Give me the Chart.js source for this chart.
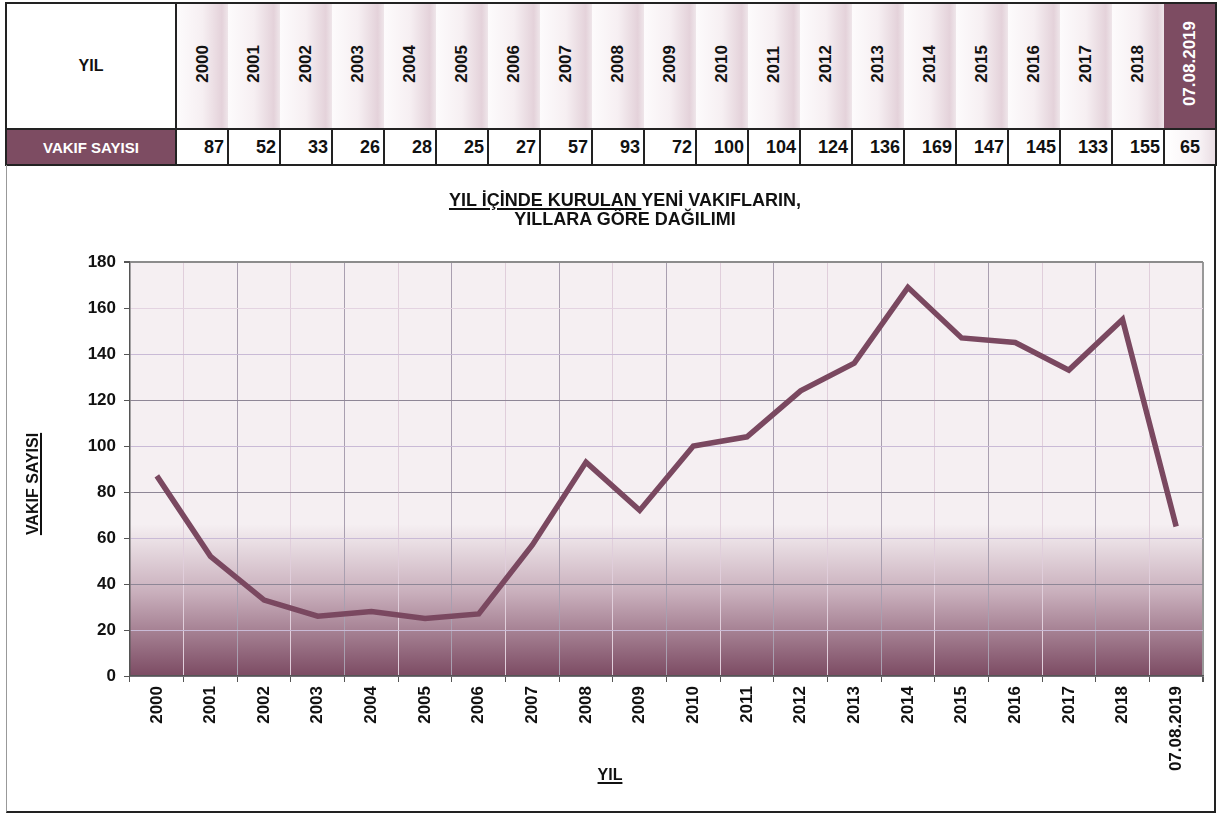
<!DOCTYPE html>
<html lang="tr">
<head>
<meta charset="utf-8">
<script src="https://cdn.jsdelivr.net/npm/chart.js@4.4.1/dist/chart.umd.min.js"></script>
<style>
  body { margin: 0; background: #fff; font-family: Arial, "Liberation Sans", sans-serif; color: #111; }
  #tbl { position: absolute; left: 5px; top: 2px; width: 1211px; border-collapse: collapse; table-layout: fixed; border: 2px solid #222; }
  #tbl td { padding: 0; font-weight: bold; }
  #tbl .head td { height: 124px; }
  #tbl .head td.year { text-align: center; vertical-align: middle;
    background: linear-gradient(to right, #fdfbfc 0%, #f6eff2 50%, #e4d2da 88%, #efe6ea 100%); }
  #tbl .head td.year span { display: inline-block; writing-mode: vertical-rl; transform: rotate(180deg); font-size: 17px; white-space: nowrap; }
  #tbl .head td.first { text-align: center; font-size: 16px; border-right: 2px solid #222; }
  #tbl td.dark { background: #7d4c62 !important; color: #fff; }
  #tbl .vals td { height: 34px; border: 2px solid #222; text-align: right; padding-right: 3px; font-size: 18px; }
  #tbl .vals td.first { text-align: center; font-size: 15px; padding-right: 0; }
  #tbl .vals td.last { text-align: center; padding-right: 0; background: linear-gradient(to right, #fff 0%, #f7f1f4 70%, #e9dde3 100%); }
  #box { position: absolute; left: 6px; top: 165px; width: 1210px; height: 648px; box-sizing: border-box;
    border-left: 1px solid #999; border-right: 2px solid #222; border-bottom: 2px solid #222; }
  #chart { position: absolute; left: 0; top: 0; }
  .lbl { position: absolute; font-weight: bold; text-align: center; white-space: nowrap; }
  .lbl u { text-decoration-thickness: 1.5px; text-underline-offset: 2px; }
  #title { left: 325px; top: 191px; width: 600px; font-size: 18px; line-height: 19px; }
  #ytitle { left: -37px; top: 474px; width: 140px; font-size: 16px; line-height: 20px; transform: rotate(-90deg); }
  #xtitle { left: 560px; top: 765px; width: 100px; font-size: 16px; line-height: 20px; }
</style>
</head>
<body>
<table id="tbl"><colgroup id="cols"></colgroup><tr class="head" id="headRow"></tr><tr class="vals" id="valRow"></tr></table>
<div id="box"><canvas id="chart" width="1207" height="646"></canvas></div>
<div class="lbl" id="title"><u>YIL İÇİNDE KURULAN </u>YENİ VAKIFLARIN,<br>YILLARA GÖRE DAĞILIMI</div>
<div class="lbl" id="ytitle"><u>VAKIF SAYISI</u></div>
<div class="lbl" id="xtitle"><u>YIL</u></div>
<script>
const years = ["2000", "2001", "2002", "2003", "2004", "2005", "2006", "2007", "2008", "2009",
  "2010", "2011", "2012", "2013", "2014", "2015", "2016", "2017", "2018", "07.08.2019"];
const foundationCounts = [87, 52, 33, 26, 28, 25, 27, 57, 93, 72, 100, 104, 124, 136, 169, 147, 145, 133, 155, 65];
const yMin = 0;
const yMax = 180;
const yStep = 20;

// table on top
const cols = document.getElementById("cols");
const headRow = document.getElementById("headRow");
const valRow = document.getElementById("valRow");
cols.innerHTML = '<col style="width:170px">' + years.map(() => '<col style="width:52px">').join("");
headRow.innerHTML = '<td class="first">YIL</td>' + years.map((y, i) =>
  `<td class="year${i === years.length - 1 ? " dark" : ""}"><span>${y}</span></td>`).join("");
valRow.innerHTML = '<td class="first dark">VAKIF SAYISI</td>' + foundationCounts.map((v, i) =>
  `<td${i === foundationCounts.length - 1 ? ' class="last"' : ""}>${v}</td>`).join("");

const plotBackground = {
  id: "plotBackground",
  beforeDraw(chart) {
    const { ctx, chartArea: a, scales: { y } } = chart;
    const y0 = y.getPixelForValue(66);
    ctx.save();
    ctx.fillStyle = "#f5eff2";
    ctx.fillRect(a.left, a.top, a.width, a.height);
    const g = ctx.createLinearGradient(0, y0, 0, a.bottom);
    g.addColorStop(0, "#f5eff2");
    g.addColorStop(0.45, "#c9afbc");
    g.addColorStop(1, "#7c4b63");
    ctx.fillStyle = g;
    ctx.fillRect(a.left, y0, a.width, a.bottom - y0);
    ctx.restore();
  }
};

const tickFont = { family: "Arial, 'Liberation Sans', sans-serif", weight: "bold" };

new Chart(document.getElementById("chart"), {
  type: "line",
  data: {
    labels: years,
    datasets: [{
      data: foundationCounts,
      borderColor: "#7a4860",
      borderWidth: 5.5,
      pointRadius: 0,
      tension: 0,
      fill: false
    }]
  },
  options: {
    responsive: false,
    animation: false,
    layout: { padding: { top: 97, right: 11, left: 0, bottom: 0 } },
    plugins: { legend: { display: false }, tooltip: { enabled: false } },
    scales: {
      x: {
        offset: true,
        grid: {
          offset: true,
          tickLength: 6,
          tickColor: "#555",
          color: (c) => c.index === undefined ? "#999" : (c.index % 2 === 0 ? "#a99fb0" : "#e0cedb"),
          lineWidth: (c) => c.index === undefined ? 2 : 1
        },
        border: { color: "#555", width: 1.5 },
        ticks: { autoSkip: false, minRotation: 90, maxRotation: 90, padding: 4, color: "#111", font: { ...tickFont, size: 17 } },
        afterFit: (s) => { s.height = 135; }
      },
      y: {
        min: yMin,
        max: yMax,
        grid: {
          tickLength: 6,
          tickColor: "#555",
          color: (c) => {
            const v = c.tick.value;
            if (v === yMax) return "#8c8c8c";
            if (v === 160) return "#e3d3e1";
            return v % 40 === 0 ? "#8e8696" : "#c9bad6";
          },
          lineWidth: (c) => c.tick.value === yMax ? 2 : 1
        },
        border: { color: "#555", width: 1.5 },
        ticks: { stepSize: yStep, padding: 8, color: "#111", font: { ...tickFont, size: 17 } },
        afterFit: (s) => { s.width = 123; }
      }
    }
  },
  plugins: [plotBackground]
});
</script>
</body>
</html>
